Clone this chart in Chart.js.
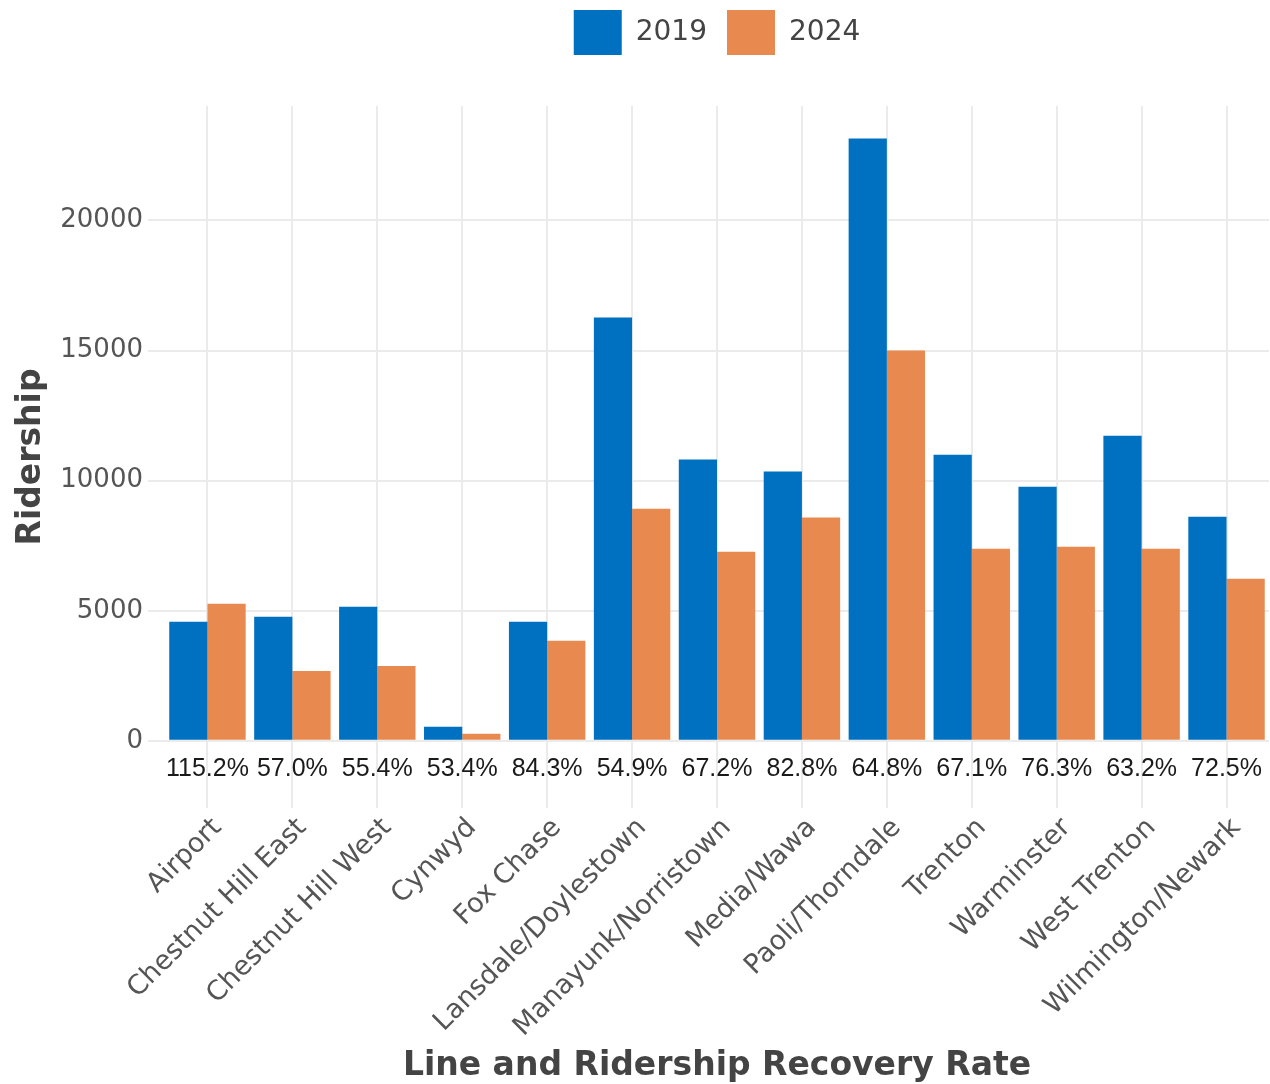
<!DOCTYPE html>
<html>
<head>
<meta charset="utf-8">
<script src="https://cdn.jsdelivr.net/npm/chart.js@4.4.1/dist/chart.umd.min.js"></script>
<style>
  html, body { margin: 0; padding: 0; background: #fff; }
  #wrap { width: 1270px; height: 1084px; position: relative; }
</style>
</head>
<body>
<div id="wrap"><canvas id="ridershipChart"></canvas></div>
<script>
// Rail lines and ridership
const lines = ['Airport', 'Chestnut Hill East', 'Chestnut Hill West', 'Cynwyd', 'Fox Chase',
    'Lansdale/Doylestown', 'Manayunk/Norristown', 'Media/Wawa', 'Paoli/Thorndale',
    'Trenton', 'Warminster', 'West Trenton', 'Wilmington/Newark'];
const riders2019 = [4580, 4770, 5150, 540, 4580, 16270, 10810, 10350, 23150, 11000, 9770, 11730, 8615];
const riders2024 = [5270, 2690, 2880, 270, 3850, 8920, 7270, 8580, 15000, 7380, 7460, 7380, 6230];
const recoveryRates = ['115.2%', '57.0%', '55.4%', '53.4%', '84.3%', '54.9%', '67.2%',
    '82.8%', '64.8%', '67.1%', '76.3%', '63.2%', '72.5%'];
const yTicks = [0, 5000, 10000, 15000, 20000];

const gridColor = '#ebebeb';
const fontFamily = "'DejaVu Sans', Verdana, sans-serif";
const titleFont = { family: fontFamily, size: 33, weight: 'bold' };

// Fix the legend band height so the plot starts where the reference does
const legendHeight = {
    id: 'legendHeight',
    beforeInit(chart) {
        const fit = chart.legend.fit;
        chart.legend.fit = function () {
            fit.bind(chart.legend)();
            this.height = 106;
        };
    },
    afterLayout(chart) {
        // pull the legend row up a little
        chart.legend.top -= 10;
    }
};

// Recovery rate row under the bars (inside the panel, below zero)
const rateRow = {
    id: 'rateRow',
    afterDatasetsDraw(chart) {
        const { ctx, scales } = chart;
        const y = scales.y.getPixelForValue(0) + 28;
        ctx.save();
        ctx.font = "25px 'Liberation Sans', Arial, sans-serif";
        ctx.fillStyle = '#1a1a1a';
        ctx.textAlign = 'center';
        ctx.textBaseline = 'middle';
        recoveryRates.forEach((r, i) => {
            ctx.fillText(r, scales.x.getPixelForValue(i), y);
        });
        ctx.restore();
    }
};

const ctx = document.getElementById('ridershipChart').getContext('2d');
new Chart(ctx, {
    type: 'bar',
    data: {
        labels: lines,
        datasets: [
            { label: '2019', data: riders2019, backgroundColor: '#0070c0' },
            { label: '2024', data: riders2024, backgroundColor: '#e8894f' }
        ]
    },
    options: {
        responsive: true,
        maintainAspectRatio: false,
        animation: false,
        datasets: { bar: { categoryPercentage: 0.9, barPercentage: 1.0 } },
        layout: { padding: { top: 0, right: 1, bottom: 0, left: 0 } },
        plugins: {
            legend: {
                position: 'top',
                fullSize: false,
                labels: {
                    boxWidth: 48,
                    boxHeight: 45,
                    padding: 20,
                    color: '#444',
                    font: { family: fontFamily, size: 28 }
                }
            },
            tooltip: { enabled: false }
        },
        scales: {
            x: {
                grid: { offset: false, color: gridColor, lineWidth: 2, drawTicks: false },
                border: { display: false },
                ticks: { minRotation: 45, maxRotation: 45, autoSkip: false, padding: 4, labelOffset: 10, color: '#555', font: { family: fontFamily, size: 27 } },
                title: { display: true, text: 'Line and Ridership Recovery Rate', color: '#444', font: titleFont, padding: { top: 0, bottom: -2 } },
                afterFit: (scale) => { scale.height = 276; }
            },
            y: {
                min: -2580,
                max: 24400,
                grid: { color: gridColor, lineWidth: 2, tickLength: 17 },
                border: { display: false },
                ticks: { padding: 5, color: '#555', font: { family: fontFamily, size: 26 }, callback: (v) => String(v) },
                title: { display: true, text: 'Ridership', color: '#444', font: titleFont, padding: { top: 12, bottom: 0 } },
                afterBuildTicks: (scale) => {
                    scale.ticks = yTicks.map(v => ({ value: v }));
                },
                afterFit: (scale) => { scale.width = 165; }
            }
        }
    },
    plugins: [legendHeight, rateRow]
});
</script>
</body>
</html>
